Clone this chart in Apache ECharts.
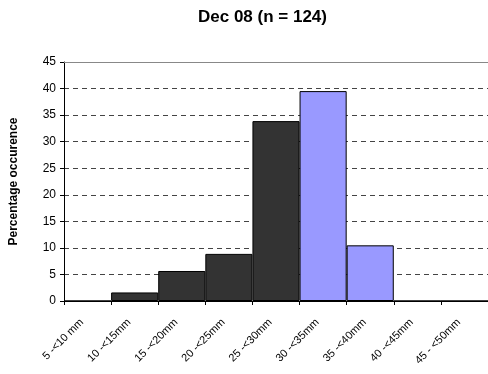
<!DOCTYPE html>
<html>
<head>
<meta charset="utf-8">
<script src="https://cdn.jsdelivr.net/npm/echarts@6/dist/echarts.min.js"></script>
<style>
  html, body { margin: 0; padding: 0; background: #fff; }
  #main { width: 488px; height: 374px; }
</style>
</head>
<body>
<div id="main"></div>
<script>
// classes of rainfall depth
var categories = ['5 -<10 mm', '10 -<15mm', '15 -<20mm', '20 -<25mm', '25 -<30mm',
  '30 -<35mm', '35 -<40mm', '40 -<45mm', '45 - <50mm']
// percentage occurence (n = 124)
var percent = [0, 1.61, 5.65, 8.87, 33.87, 39.52, 10.48, 0, 0]
// bars from 30mm up are shown in the lighter colour
var highlight = [false, false, false, false, false, true, true, true, true]
var yTicks = { min: 0, max: 45, step: 5 }

var barData = []
for (var i = 0; i < percent.length; i++) {
  barData.push({
    value: percent[i],
    itemStyle: { color: highlight[i] ? '#9999FF' : '#333333' }
  })
}

var myChart = echarts.init(document.getElementById('main'))
myChart.setOption({
  animation: false,
  textStyle: { fontFamily: 'Liberation Sans, Arial, sans-serif' },
  title: {
    text: 'Dec 08 (n = 124)',
    left: 193,
    top: 4,
    textStyle: { fontSize: 17, fontWeight: 'bold', color: '#000' }
  },
  grid: { left: 64, right: 0, top: 62, bottom: 73 },
  xAxis: [{
    type: 'category',
    data: categories,
    axisLine: { lineStyle: { color: '#000', width: 1 } },
    axisTick: { show: true, length: 4, lineStyle: { color: '#000' } },
    axisLabel: { rotate: 45, fontSize: 11, color: '#000', margin: 14, padding: [0, 8, 0, 0], interval: 0 }
  }, {
    type: 'category',
    position: 'top',
    data: categories,
    axisLine: { lineStyle: { color: '#888', width: 1 } },
    axisTick: { show: false },
    axisLabel: { show: false }
  }],
  yAxis: {
    type: 'value',
    min: yTicks.min,
    max: yTicks.max,
    interval: yTicks.step,
    name: 'Percentage occurence',
    nameLocation: 'middle',
    nameGap: 44,
    nameTextStyle: { fontSize: 12, fontWeight: 'bold', color: '#000' },
    axisLine: { show: true, lineStyle: { color: '#000', width: 1 } },
    axisTick: { show: true, length: 4, lineStyle: { color: '#000' } },
    axisLabel: { fontSize: 12, color: '#000', margin: 8 },
    splitLine: { lineStyle: { color: '#444', type: [5, 4], width: 1 } }
  },
  series: [{
    type: 'bar',
    data: barData,
    barCategoryGap: '0%',
    itemStyle: { borderColor: '#000', borderWidth: 1 }
  }]
})
</script>
</body>
</html>
